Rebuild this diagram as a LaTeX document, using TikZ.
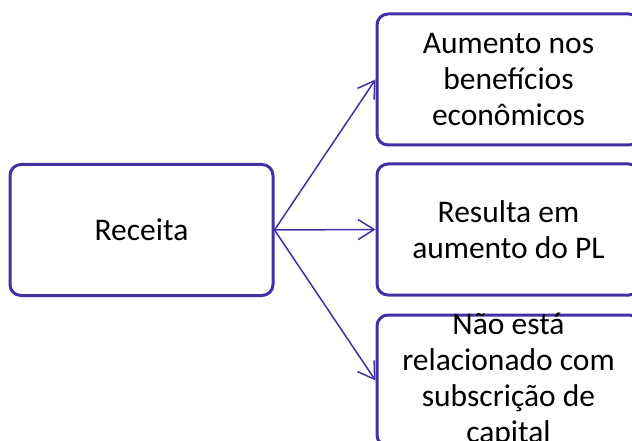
\documentclass[tikz,border=0pt]{standalone}
\usepackage{fontspec}
\setmainfont{Carlito}
\usetikzlibrary{arrows.meta}
\definecolor{boxblue}{RGB}{64,50,165}
\tikzset{
  box/.style={draw=boxblue, line width=3pt, rounded corners=11pt, fill=white,
    minimum width=263pt, minimum height=131pt, inner sep=0pt, align=center,
    font=\fontsize{31.5}{36}\selectfont, text=black},
  txt/.style={align=center, font=\fontsize{31.5}{36}\selectfont, text=black, inner sep=0pt},
  conn/.style={draw=boxblue, line width=1.5pt, -{Straight Barb[length=16pt,width=20pt,line width=1.5pt]}}
}
\begin{document}
\begin{tikzpicture}[x=1pt,y=-1pt]
\clip (0,0) rectangle (632,441);
\fill[white] (0,0) rectangle (632,441);
\node[box] (r) at (141.5,230) {Receita};
\node[box] (b1) at (508.5,79.5) {Aumento nos\\benefícios\\econômicos};
\node[box] (b2) at (508.5,229.5) {Resulta em\\aumento do PL};
\node[box] (b3) at (508.5,380.5) {};
\node[txt] (b3t) at (b3.center) {Não está\\relacionado com\\subscrição de\\capital};
\draw[conn] (r.east) -- (b1.west);
\draw[conn] (r.east) -- (b2.west);
\draw[conn] (r.east) -- (b3.west);
\end{tikzpicture}
\end{document}
